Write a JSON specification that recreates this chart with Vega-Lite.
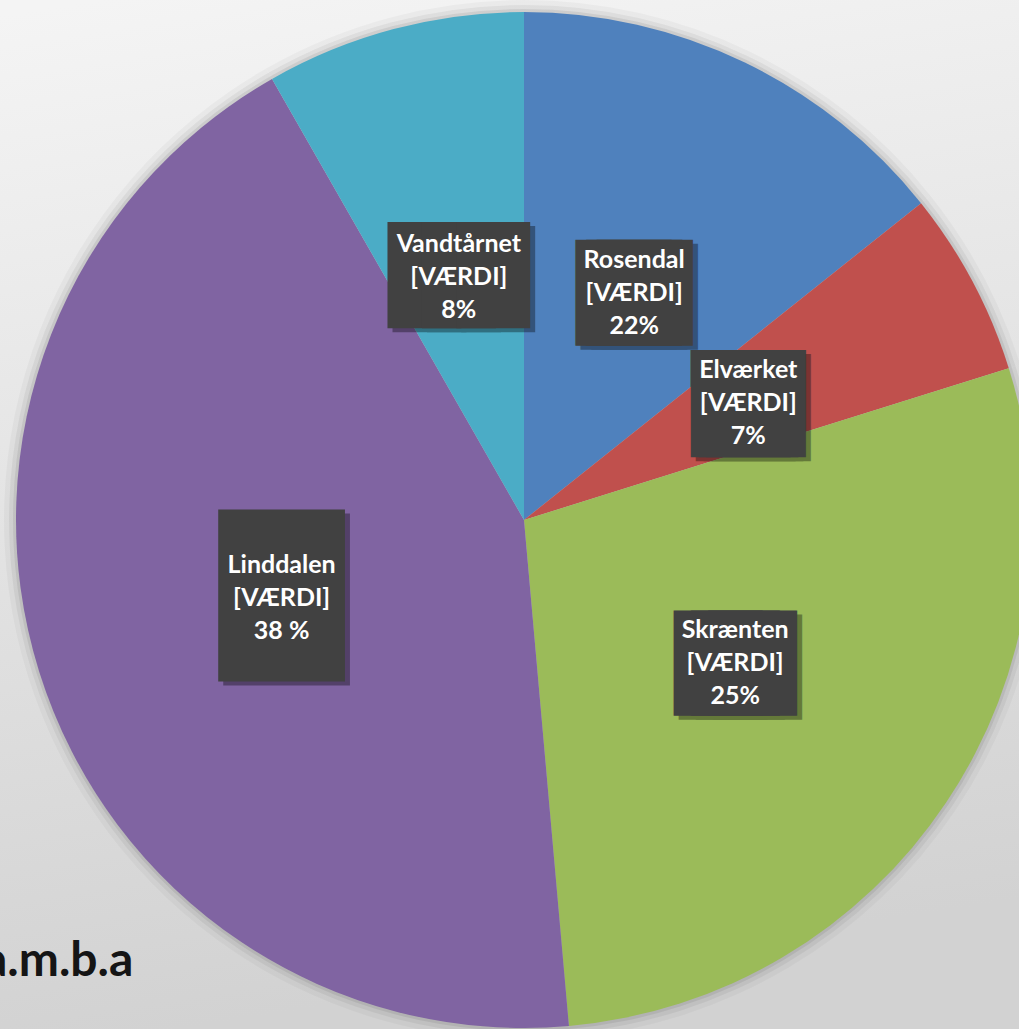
{
  "$schema": "https://vega.github.io/schema/vega-lite/v6.json",
  "width": 990,
  "height": 1018,
  "autosize": {"type": "none"},
  "padding": {"left": 29, "top": 11, "right": 0, "bottom": 0},
  "background": "#e4e4e4",
  "config": {"view": {"stroke": null}},
  "title": {
    "text": "a.m.b.a",
    "orient": "bottom",
    "anchor": "start",
    "frame": "group",
    "align": "left",
    "baseline": "alphabetic",
    "offset": -88,
    "dx": -46,
    "font": "Lato",
    "fontSize": 48,
    "fontWeight": "bold",
    "color": "#151515"
  },
  "data": {
    "values": [
      {"area": "Rosendal", "share": 14.28, "rank": 1, "label": "Rosendal\n[VÆRDI]\n22%"},
      {"area": "Elværket", "share": 5.89, "rank": 2, "label": "Elværket\n[VÆRDI]\n7%"},
      {"area": "Skrænten", "share": 28.42, "rank": 3, "label": "Skrænten\n[VÆRDI]\n25%"},
      {"area": "Linddalen", "share": 43.15, "rank": 4, "label": "Linddalen\n[VÆRDI]\n38 %"},
      {"area": "Vandtårnet", "share": 8.26, "rank": 5, "label": "Vandtårnet\n[VÆRDI]\n8%"}
    ]
  },
  "encoding": {
    "theta": {"field": "share", "type": "quantitative", "stack": true},
    "order": {"field": "rank", "type": "quantitative"}
  },
  "layer": [
    {
      "data": {"values": [{"bg": 1}]},
      "mark": {
        "type": "rect",
        "fill": {
          "gradient": "linear",
          "x1": 0, "y1": 0, "x2": 0.15, "y2": 1,
          "stops": [
            {"offset": 0, "color": "#f4f4f4"},
            {"offset": 1, "color": "#d2d2d2"}
          ]
        },
        "stroke": {
          "gradient": "linear",
          "x1": 0, "y1": 0, "x2": 0.15, "y2": 1,
          "stops": [
            {"offset": 0, "color": "#f4f4f4"},
            {"offset": 1, "color": "#d2d2d2"}
          ]
        },
        "strokeWidth": 70
      },
      "encoding": {}
    },
    {
      "mark": {"type": "arc", "outerRadius": 520, "fill": "#000000", "opacity": 0.03},
      "encoding": {"detail": {"field": "area"}}
    },
    {
      "mark": {"type": "arc", "outerRadius": 515, "fill": "#000000", "opacity": 0.05},
      "encoding": {"detail": {"field": "area"}}
    },
    {
      "mark": {"type": "arc", "outerRadius": 511, "fill": "#000000", "opacity": 0.07},
      "encoding": {"detail": {"field": "area"}}
    },
    {
      "mark": {"type": "arc", "outerRadius": 508},
      "encoding": {
        "color": {
          "field": "area",
          "type": "nominal",
          "scale": {
            "domain": ["Rosendal", "Elværket", "Skrænten", "Linddalen", "Vandtårnet"],
            "range": ["#4f81bd", "#c0504d", "#9bbb59", "#8064a2", "#4bacc6"]
          },
          "legend": null
        }
      }
    },
    {
      "mark": {"type": "text", "radius": 254, "font": "DejaVu Sans Mono", "fill": "#000000", "stroke": "#000000", "strokeJoin": "miter", "opacity": 0.35, "dx": 5, "dy": 7, "baseline": "middle", "align": "center"},
      "encoding": {
        "detail": {"field": "area"},
        "text": {"condition": {"test": "datum.area === 'Linddalen'", "value": "█"}, "value": "███"},
        "size": {"condition": [
          {"test": "datum.area === 'Linddalen'", "value": 80},
          {"test": "datum.area === 'Vandtårnet'", "value": 57},
          {"test": "datum.area === 'Skrænten'", "value": 28.7},
          {"test": "datum.area === 'Elværket'", "value": 12.7}
        ], "value": 17.5},
        "strokeWidth": {"condition": [
          {"test": "datum.area === 'Linddalen'", "value": 77},
          {"test": "datum.area === 'Vandtårnet'", "value": 38.5},
          {"test": "datum.area === 'Skrænten'", "value": 71.2},
          {"test": "datum.area === 'Elværket'", "value": 92}
        ], "value": 85.4}
      }
    },
    {
      "mark": {"type": "text", "radius": 254, "font": "DejaVu Sans Mono", "fill": "#414141", "stroke": "#414141", "strokeJoin": "miter", "dy": 3, "baseline": "middle", "align": "center"},
      "encoding": {
        "detail": {"field": "area"},
        "text": {"condition": {"test": "datum.area === 'Linddalen'", "value": "█"}, "value": "███"},
        "size": {"condition": [
          {"test": "datum.area === 'Linddalen'", "value": 80},
          {"test": "datum.area === 'Vandtårnet'", "value": 57},
          {"test": "datum.area === 'Skrænten'", "value": 28.7},
          {"test": "datum.area === 'Elværket'", "value": 12.7}
        ], "value": 17.5},
        "strokeWidth": {"condition": [
          {"test": "datum.area === 'Linddalen'", "value": 77},
          {"test": "datum.area === 'Vandtårnet'", "value": 38.5},
          {"test": "datum.area === 'Skrænten'", "value": 71.2},
          {"test": "datum.area === 'Elværket'", "value": 92}
        ], "value": 85.4}
      }
    },
    {
      "mark": {"type": "text", "radius": 254, "font": "Lato", "fontSize": 25, "fontWeight": "bold", "fill": "#ffffff", "lineBreak": "\n", "lineHeight": 33, "dy": -31, "baseline": "middle", "align": "center"},
      "encoding": {"text": {"field": "label"}, "detail": {"field": "area"}}
    }
  ]
}
